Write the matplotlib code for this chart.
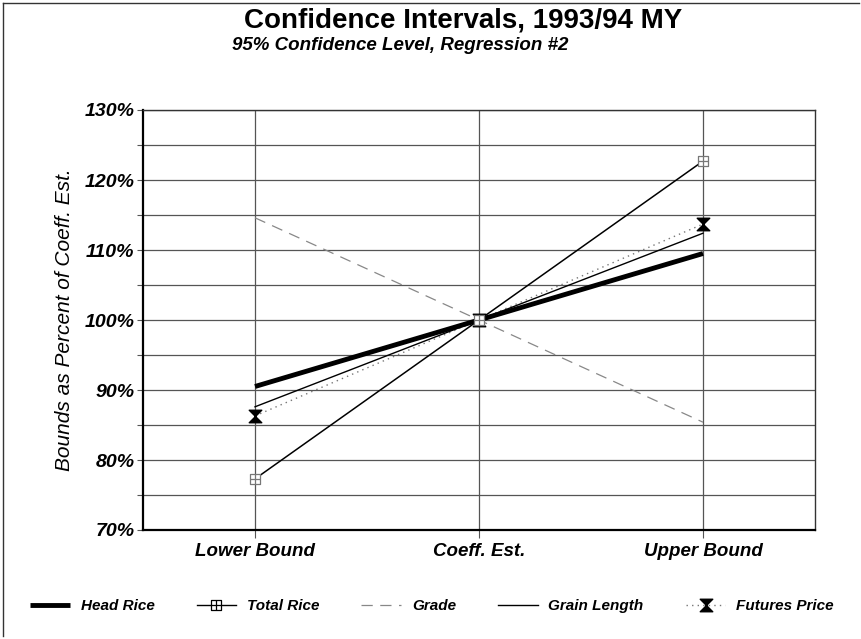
import matplotlib
matplotlib.use("Agg")
import matplotlib.pyplot as plt
from matplotlib.path import Path
from matplotlib.lines import Line2D

categories = ["Lower Bound", "Coeff. Est.", "Upper Bound"]
head_rice = [90.5, 100.0, 109.5]
total_rice = [77.3, 100.0, 122.7]
grade = [114.6, 100.0, 85.4]
grain_length = [87.6, 100.0, 112.4]
futures_price = [86.3, 100.0, 113.7]
yticks = [70, 80, 90, 100, 110, 120, 130]
ytick_labels = ["70%", "80%", "90%", "100%", "110%", "120%", "130%"]

plt.rcParams['font.family'] = ['Liberation Sans', 'DejaVu Sans']

fig = plt.figure(figsize=(8.62, 6.39), dpi=100)
W, H = 862, 639
ax = fig.add_axes([143 / W, 1 - 530 / H, 672 / W, 420 / H])

x = list(range(len(categories)))

# custom markers
sq_plus = Path([(-1, -1), (1, -1), (1, 1), (-1, 1), (-1, -1),
                (0, -1), (0, 1), (-1, 0), (1, 0)],
               [Path.MOVETO, Path.LINETO, Path.LINETO, Path.LINETO, Path.CLOSEPOLY,
                Path.MOVETO, Path.LINETO, Path.MOVETO, Path.LINETO])
hourglass = Path([(-1, 1), (1, 1), (0, 0), (-1, 1), (-1, -1), (1, -1), (0, 0), (-1, -1)],
                 [Path.MOVETO, Path.LINETO, Path.LINETO, Path.CLOSEPOLY,
                  Path.MOVETO, Path.LINETO, Path.LINETO, Path.CLOSEPOLY])

ax.plot(x, grade, color="#888888", lw=0.9, dashes=(9, 6), zorder=3)
ax.plot(x, futures_price, color="#777777", lw=1.0, ls=(0, (1, 3)), zorder=3)
ax.plot(x, futures_price, ls="none", marker=hourglass, ms=9, color="black", zorder=5)
ax.plot(x, grain_length, color="black", lw=1.0, zorder=4)
ax.plot(x, total_rice, color="black", lw=1.1, zorder=4)
ax.plot(x, total_rice, ls="none", marker=sq_plus, ms=7, mfc="white", mec="#777777", mew=0.9, zorder=5)
ax.plot(x, head_rice, color="black", lw=3.5, zorder=4, solid_capstyle="butt")

ax.set_xlim(-0.5, 2.5)
ax.set_ylim(70, 130)
ax.set_yticks(yticks)
ax.set_yticks([75, 85, 95, 105, 115, 125], minor=True)
ax.set_yticklabels(ytick_labels, fontsize=14, fontweight="bold", fontstyle="italic")
ax.set_xticks(x)
ax.set_xticklabels(categories, fontsize=13.5, fontweight="bold", fontstyle="italic")
ax.tick_params(axis="y", which="both", direction="out", length=4, width=0.8, color="#555555", pad=2)
ax.tick_params(axis="x", direction="out", length=6, width=0.8, color="#555555", pad=3)

ax.grid(True, which="both", axis="y", color="#555555", lw=0.9)
ax.grid(True, which="major", axis="x", color="#555555", lw=0.9)
ax.set_axisbelow(True)
for s in ["left", "bottom"]:
    ax.spines[s].set_linewidth(1.6)
    ax.spines[s].set_color("black")
for s in ["top", "right"]:
    ax.spines[s].set_linewidth(1.0)
    ax.spines[s].set_color("#333333")

ax.set_ylabel("Bounds as Percent of Coeff. Est.", fontsize=15, fontstyle="italic", labelpad=8)

fig.text(463 / W, 1 - 20 / H, "Confidence Intervals, 1993/94 MY", ha="center", va="center",
         fontsize=20, fontweight="bold")
fig.text(400 / W, 1 - 46 / H, "95% Confidence Level, Regression #2", ha="center", va="center",
         fontsize=13.5, fontweight="bold", fontstyle="italic")

handles = [
    Line2D([], [], color="black", lw=3.5, solid_capstyle="butt"),
    Line2D([], [], color="black", lw=1.0, marker=sq_plus, ms=7, mfc="white", mec="black", mew=0.9),
    Line2D([], [], color="#888888", lw=0.9, dashes=(9, 6)),
    Line2D([], [], color="black", lw=1.0),
    Line2D([], [], color="#777777", lw=1.0, ls=(0, (1, 3)), marker=hourglass, ms=9,
           mfc="black", mec="black"),
]
labels = ["Head Rice", "Total Rice", "Grade", "Grain Length", "Futures Price"]
fig.legend(handles, labels, loc="center", bbox_to_anchor=(432 / W, 1 - 606 / H), ncol=5,
           frameon=False, prop={"size": 11, "weight": "bold", "style": "italic"},
           handlelength=2.6, handletextpad=0.7, columnspacing=2.75)

# figure border
fig.add_artist(Line2D([3 / W, 3 / W], [1 - 636 / H, 1 - 3 / H], transform=fig.transFigure,
                      color="#333333", lw=1.0))
fig.add_artist(Line2D([3 / W, 859 / W], [1 - 3 / H, 1 - 3 / H], transform=fig.transFigure,
                      color="#333333", lw=1.0))

fig.savefig("out.png", dpi=100)
